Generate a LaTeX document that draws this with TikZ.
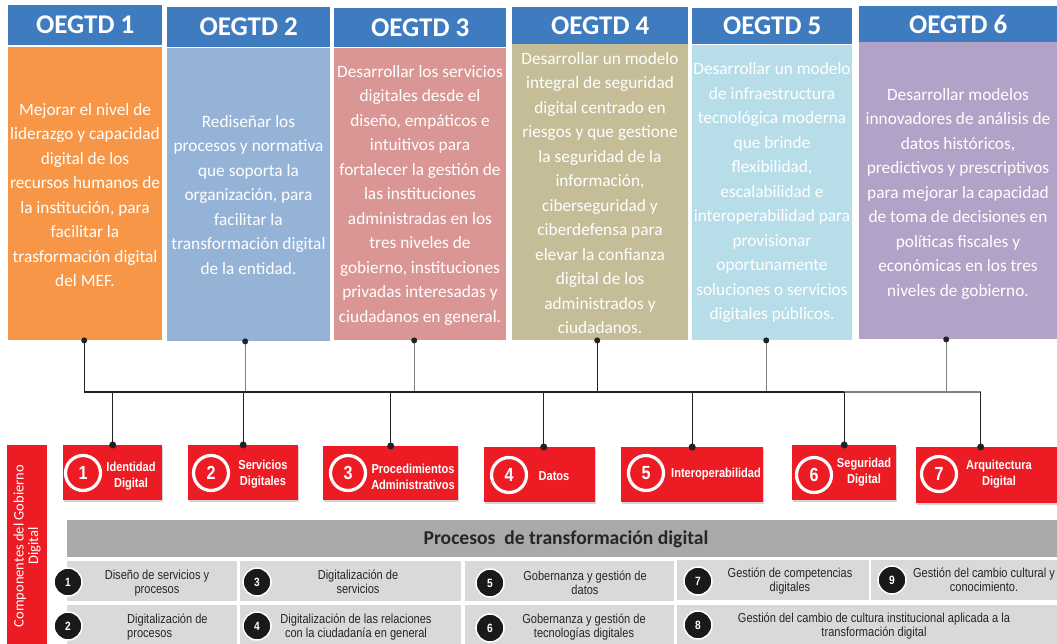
\documentclass[tikz,border=0pt]{standalone}
\usepackage{fontspec}
\setmainfont{Carlito}
\newfontfamily\narrowfont[FakeStretch=0.85]{Liberation Sans}
\usetikzlibrary{shadows,calc}
\definecolor{hdrblue}{HTML}{3F7BBF}
\definecolor{orgbody}{HTML}{F79646}
\definecolor{bluebody}{HTML}{95B3D7}
\definecolor{pinkbody}{HTML}{D99694}
\definecolor{olivebody}{HTML}{C4BD97}
\definecolor{cyanbody}{HTML}{B7DEE8}
\definecolor{purplebody}{HTML}{B3A2C7}
\definecolor{compred}{HTML}{ED1C24}
\definecolor{bandgray}{HTML}{A9A9A9}
\definecolor{cellgray}{HTML}{D9D9D9}
\definecolor{linedark}{HTML}{222222}
\definecolor{linegray}{HTML}{808080}
\begin{document}
\begin{tikzpicture}[x=1pt,y=-1pt,
  hdr/.style={fill=hdrblue,text=white,font=\bfseries\fontsize{27}{30}\selectfont,inner sep=0,anchor=north west},
  bodybox/.style={inner sep=0,anchor=north west},
  bodytext/.style={text=white,font=\fontsize{17.3}{24.5}\selectfont,align=center,inner sep=0},
  comp/.style={fill=compred,inner sep=0,anchor=north west,drop shadow={shadow xshift=1pt,shadow yshift=-2pt,opacity=.35,fill=gray}},
  ring/.style={circle,draw=white,line width=3.2pt,fill=compred,minimum size=35,inner sep=0,text=white,font=\narrowfont\bfseries\fontsize{19}{19}\selectfont},
  clab/.style={text=white,font=\narrowfont\bfseries\fontsize{13}{16}\selectfont,align=center,inner sep=0},
  cell/.style={fill=cellgray,inner sep=0,anchor=north west},
  bnum/.style={circle,fill=black!90,draw=white,line width=1.5pt,minimum size=28,inner sep=0,text=white,font=\narrowfont\bfseries\fontsize{12}{12}\selectfont},
  ptext/.style={font=\narrowfont\fontsize{13}{14.5}\selectfont,text=black!85,align=center,inner sep=0},
  conn/.style={draw=linedark,line width=1.3pt},
  conng/.style={draw=linegray,line width=1.3pt},
  busline/.style={draw=linedark,line width=2pt},
  busgray/.style={draw=linegray,line width=2pt}]
\useasboundingbox (0,0) rectangle (1057,644);

% headers
\node[hdr,minimum width=154,minimum height=40] (h1) at (8,5) {OEGTD 1};
\node[hdr,minimum width=163,minimum height=40] (h2) at (167,7) {OEGTD 2};
\node[hdr,minimum width=172,minimum height=39] (h3) at (334,8) {OEGTD 3};
\node[hdr,minimum width=176,minimum height=37] (h4) at (512,7) {OEGTD 4};
\node[hdr,minimum width=160,minimum height=36] (h5) at (692,8) {OEGTD 5};
\node[hdr,minimum width=198,minimum height=36] (h6) at (859,6) {OEGTD 6};

% bodies
\node[bodybox,fill=orgbody,minimum width=154,minimum height=293] (o1) at (8,47) {};
\node[bodybox,fill=bluebody,minimum width=163,minimum height=293] (o2) at (167,48) {};
\node[bodybox,fill=pinkbody,minimum width=172,minimum height=292] (o3) at (334,48) {};
\node[bodybox,fill=olivebody,minimum width=176,minimum height=296] (o4) at (512,44) {};
\node[bodybox,fill=cyanbody,minimum width=160,minimum height=295] (o5) at (692,45) {};
\node[bodybox,fill=purplebody,minimum width=198,minimum height=297] (o6) at (859,42) {};

\node[bodytext] (ot1) at (85,195)
 {Mejorar el nivel de\\liderazgo y capacidad\\digital de los\\recursos humanos de\\la institución, para\\facilitar la\\trasformación digital\\del MEF.};
\node[bodytext] (ot2) at (248.5,195)
 {Rediseñar los\\procesos y normativa\\que soporta la\\organización, para\\facilitar la\\transformación digital\\de la entidad.};
\node[bodytext] (ot3) at (420,195)
 {Desarrollar los servicios\\digitales desde el\\diseño, empáticos e\\intuitivos para\\fortalecer la gestión de\\las instituciones\\administradas en los\\tres niveles de\\gobierno, instituciones\\privadas interesadas y\\ciudadanos en general.};
\node[bodytext] (ot4) at (600,193)
 {Desarrollar un modelo\\integral de seguridad\\digital centrado en\\riesgos y que gestione\\la seguridad de la\\información,\\ciberseguridad y\\ciberdefensa para\\elevar la confianza\\digital de los\\administrados y\\ciudadanos.};
\node[bodytext] (ot5) at (772,192.5)
 {Desarrollar un modelo\\de infraestructura\\tecnológica moderna\\que brinde\\flexibilidad,\\escalabilidad e\\interoperabilidad para\\provisionar\\oportunamente\\soluciones o servicios\\digitales públicos.};
\node[bodytext] (ot6) at (958,193.5)
 {Desarrollar modelos\\innovadores de análisis de\\datos históricos,\\predictivos y prescriptivos\\para mejorar la capacidad\\de toma de decisiones en\\políticas fiscales y\\económicas en los tres\\niveles de gobierno.};

% component boxes
\node[comp,minimum width=99,minimum height=55] (c1) at (63,445) {};
\node[comp,minimum width=110,minimum height=55] (c2) at (188,445) {};
\node[comp,minimum width=135,minimum height=54] (c3) at (323,446) {};
\node[comp,minimum width=111,minimum height=55] (c4) at (484,447) {};
\node[comp,minimum width=142,minimum height=55] (c5) at (621,447) {};
\node[comp,minimum width=104,minimum height=55] (c6) at (792,445) {};
\node[comp,minimum width=141,minimum height=56] (c7) at (916,447) {};

\node[ring] (r1) at (83,473) {1};
\node[ring] (r2) at (211,473) {2};
\node[ring] (r3) at (348,473) {3};
\node[ring] (r4) at (509,475) {4};
\node[ring] (r5) at (646,473) {5};
\node[ring] (r6) at (814,475) {6};
\node[ring] (r7) at (939,474) {7};

\node[clab] (l1) at (131,476) {Identidad\\Digital};
\node[clab] (l2) at (263,474) {Servicios\\Digitales};
\node[clab] (l3) at (413,476.5) {Procedimientos\\Administrativos};
\node[clab] (l4) at (554,476) {Datos};
\node[clab] (l5) at (716,474) {Interoperabilidad};
\node[clab] (l6) at (864,472.5) {Seguridad\\Digital};
\node[clab] (l7) at (999,474.5) {Arquitectura\\Digital};

% connectors
\coordinate (bus) at (0,392);
\path (o1.south) ++(-1,0) coordinate (d1);
\path (o2.south) ++(-3.5,0) coordinate (d2);
\path (o3.south) ++(-6,0) coordinate (d3);
\path (o4.south) ++(-3,0) coordinate (d4);
\path (o5.south) ++(-6,0) coordinate (d5);
\path (o6.south) ++(-12,0) coordinate (d6);
\path (c1.north) coordinate (t1);
\path (c2.north) coordinate (t2);
\path (c3.north) coordinate (t3);
\path (c4.north) ++(4,0) coordinate (t4);
\path (c5.north) coordinate (t5);
\path (c6.north) coordinate (t6);
\path (c7.north) ++(-6,0) coordinate (t7);

\draw[conn] (d1) -- (d1 |- bus);
\draw[conng] (d2) -- (d2 |- bus);
\draw[conng] (d3) -- (d3 |- bus);
\draw[conn] (d4) -- (d4 |- bus);
\draw[conng] (d5) -- (d5 |- bus);
\draw[conng] (d6) -- (d6 |- bus);
\draw[busgray] (t6 |- bus) -- (t7 |- bus);
\draw[busline] (d1 |- bus) -- (t6 |- bus);
\foreach \i in {1,...,7} {\draw[conn] (t\i |- bus) -- (t\i);}
\foreach \i in {1,...,6} {\fill[linedark] (d\i) circle (3pt);}
\foreach \i in {1,...,7} {\fill[linedark] (t\i) circle (3.5pt);}

% left bar
\node[fill=compred,anchor=north west,minimum width=40,minimum height=199,inner sep=0] (lb) at (7,445) {};
\node[rotate=90,text=white,font=\fontsize{14.5}{14.5}\selectfont,align=center,inner sep=0] (lbt) at (27,546) {Componentes del Gobierno\\Digital};

% processes band
\node[fill=bandgray,anchor=north west,minimum width=990,minimum height=37,inner sep=0] (band) at (67,520) {};
\node[font=\bfseries\fontsize{19.6}{19.6}\selectfont,text=black!85,inner sep=0] (bandt) at (566,539) {Procesos\ \ de transformación digital};

% process cells
\node[cell,minimum width=170,minimum height=40] (p1) at (67,561) {};
\node[cell,minimum width=221,minimum height=40] (p3) at (240,561) {};
\node[cell,minimum width=209,minimum height=40] (p5) at (465,561) {};
\node[cell,minimum width=192,minimum height=40] (p7) at (677,560) {};
\node[cell,minimum width=186,minimum height=40] (p9) at (871,560) {};
\node[cell,minimum width=170,minimum height=39] (p2) at (67,605) {};
\node[cell,minimum width=221,minimum height=39] (p4) at (240,605) {};
\node[cell,minimum width=209,minimum height=39] (p6) at (465,605) {};
\node[cell,minimum width=380,minimum height=39] (p8) at (677,605) {};

\node[ptext] (pt1) at (157,583) {Diseño de servicios y\\procesos};
\node[ptext,align=left,anchor=west] (pt2) at (127,627) {Digitalización de\\procesos};
\node[ptext] (pt3) at (358,582) {Digitalización de\\servicios};
\node[ptext] (pt4) at (356,627) {Digitalización de las relaciones\\con la ciudadanía en general};
\node[ptext] (pt5) at (585,583) {Gobernanza y gestión de\\datos};
\node[ptext] (pt6) at (584,627) {Gobernanza y gestión de\\tecnologías digitales};
\node[ptext] (pt7) at (790,581) {Gestión de competencias\\digitales};
\node[ptext] (pt8) at (874,626) {Gestión del cambio de cultura institucional aplicada a la\\transformación digital};
\node[ptext] (pt9) at (984,580) {Gestión del cambio cultural y\\conocimiento.};

\node[bnum] (n1) at (68,582) {1};
\node[bnum] (n2) at (68,626) {2};
\node[bnum] (n3) at (257,582) {3};
\node[bnum] (n4) at (257,626) {4};
\node[bnum] (n5) at (490,583) {5};
\node[bnum] (n6) at (490,628) {6};
\node[bnum] (n7) at (698,581) {7};
\node[bnum] (n8) at (698,625) {8};
\node[bnum] (n9) at (892,580) {9};
\end{tikzpicture}
\end{document}
